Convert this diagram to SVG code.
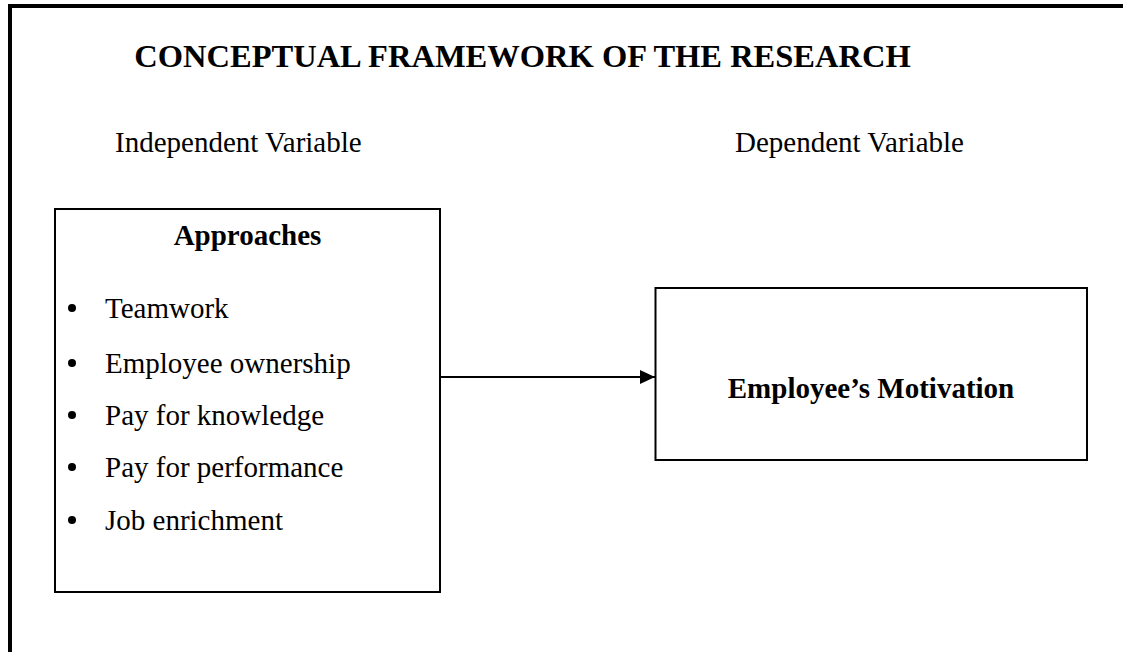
<svg xmlns="http://www.w3.org/2000/svg" width="1123" height="652" viewBox="0 0 1123 652">
<style>
.t{font-family:"Liberation Serif","Times New Roman",serif;fill:#000}
.b{font-weight:bold}
.box{fill:#fff;stroke:#000;stroke-width:2}
</style>
<defs>
<marker id="arr" markerUnits="userSpaceOnUse" markerWidth="16" markerHeight="16" refX="15" refY="7" orient="auto">
<path d="M0,0 L15,7 L0,14 Z" fill="#000"/>
</marker>
</defs>
<rect width="1123" height="652" fill="#fff"/>
<g id="frame">
<path d="M10,660 L10,6 L1123,6" fill="none" stroke="#000" stroke-width="4"/>
</g>
<g id="title">
<text class="t b" x="522.5" y="67" font-size="32.5" text-anchor="middle">CONCEPTUAL FRAMEWORK OF THE RESEARCH</text>
</g>
<g id="labels">
<text class="t" x="115" y="152" font-size="29">Independent Variable</text>
<text class="t" x="735" y="152" font-size="29">Dependent Variable</text>
</g>
<g id="approaches">
<rect class="box" x="55" y="209" width="385" height="383"/>
<text class="t b" x="247.5" y="245" font-size="29" text-anchor="middle">Approaches</text>
<g class="t" font-size="29">
<circle cx="72" cy="308" r="4"/><text x="105" y="318">Teamwork</text>
<circle cx="72" cy="363" r="4"/><text x="105" y="373">Employee ownership</text>
<circle cx="72" cy="415" r="4"/><text x="105" y="425">Pay for knowledge</text>
<circle cx="72" cy="467" r="4"/><text x="105" y="477">Pay for performance</text>
<circle cx="72" cy="520" r="4"/><text x="105" y="530">Job enrichment</text>
</g>
</g>
<g id="motivation">
<rect class="box" x="655.5" y="288" width="431.5" height="172"/>
<text class="t b" x="871" y="398" font-size="29" text-anchor="middle">Employee’s Motivation</text>
</g>
<g id="connectors">
<line x1="440" y1="377" x2="655" y2="377" stroke="#000" stroke-width="2" marker-end="url(#arr)"/>
</g>
</svg>
